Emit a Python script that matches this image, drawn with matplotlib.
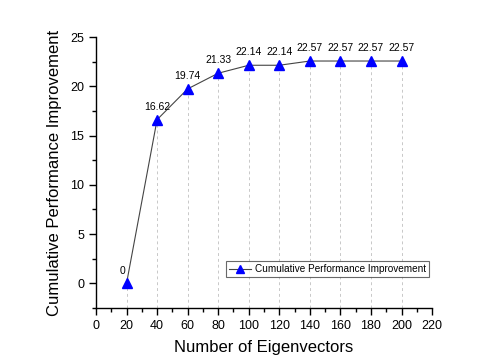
import matplotlib.pyplot as plt
from matplotlib.ticker import MultipleLocator

plt.rcParams['font.family'] = ['Liberation Sans', 'DejaVu Sans']

# eigenvector counts and cumulative improvement
n_eig = [20, 40, 60, 80, 100, 120, 140, 160, 180, 200]
improvement = [0, 16.62, 19.74, 21.33, 22.14, 22.14, 22.57, 22.57, 22.57, 22.57]
point_labels = ["0", "16.62", "19.74", "21.33", "22.14", "22.14", "22.57", "22.57", "22.57", "22.57"]

fig = plt.figure(figsize=(4.86, 3.6), dpi=100)
ax = fig.add_axes([0.1975, 0.1444, 0.6915, 0.7526])

ymin = -2.5
ax.vlines(n_eig, ymin, improvement, colors='#c8c8c8', linestyles=(0, (3, 3)), linewidth=0.7, zorder=1)
ax.plot(n_eig, improvement, color='#444444', linewidth=0.8, marker='^', markersize=7,
        markerfacecolor='#0000ff', markeredgecolor='#0000ff', label='Cumulative Performance Improvement', zorder=3)

for x, y, t in zip(n_eig, improvement, point_labels):
    if y == 0:
        ax.text(x - 2.5, y + 0.8, t, ha='center', va='bottom', fontsize=7.5)
    else:
        ax.text(x, y + 0.8, t, ha='center', va='bottom', fontsize=7.5)

ax.set_xlim(0, 220)
ax.set_ylim(ymin, 25)
ax.xaxis.set_major_locator(MultipleLocator(20))
ax.xaxis.set_minor_locator(MultipleLocator(10))
ax.yaxis.set_major_locator(MultipleLocator(5))
ax.yaxis.set_minor_locator(MultipleLocator(2.5))
ax.tick_params(which='major', direction='out', length=5, width=1, labelsize=9)
ax.tick_params(which='minor', direction='out', length=3, width=1)

for side in ['top', 'right']:
    ax.spines[side].set_visible(False)
for side in ['left', 'bottom']:
    ax.spines[side].set_linewidth(1)

ax.set_xlabel('Number of Eigenvectors', fontsize=12, labelpad=6)
ax.set_ylabel('Cumulative Performance Improvement', fontsize=12, labelpad=6)

leg = ax.legend(loc='lower right', bbox_to_anchor=(1.005, 0.095), fontsize=7.2, frameon=True,
                fancybox=False, edgecolor='#444444', handlelength=2.2, borderpad=0.3,
                handletextpad=0.4, markerscale=0.9)
leg.get_frame().set_linewidth(0.8)

fig.savefig('out.png', dpi=100)
